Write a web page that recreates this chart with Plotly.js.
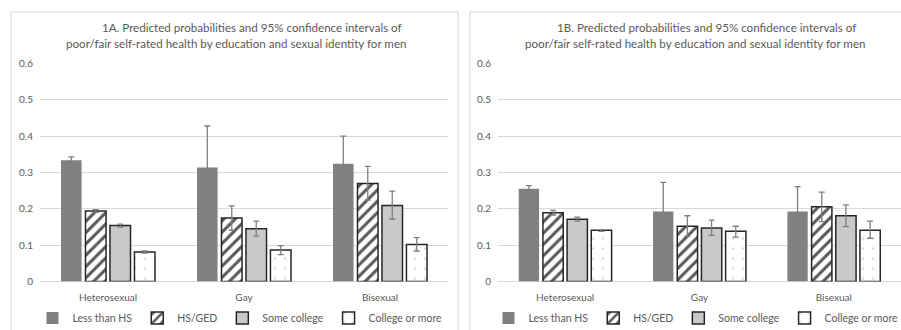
<!DOCTYPE html>
<html>
<head>
<meta charset="utf-8">
<script src="https://cdn.plot.ly/plotly-3.0.1.min.js"></script>
<style>html,body{margin:0;padding:0;background:#fff;}#chart{width:901px;height:330px;}</style>
</head>
<body>
<div id="chart"></div>
<script>
// ---- Data ----
const categories = ['Heterosexual', 'Gay', 'Bisexual'];
const seriesNames = ['Less than HS', 'HS/GED', 'Some college', 'College or more'];
const titleA1 = '1A. Predicted probabilities and 95% confidence intervals of';
const titleA2 = 'poor/fair self-rated health by education and sexual identity for men';
const titleB1 = '1B. Predicted probabilities and 95% confidence intervals of';
const titleB2 = 'poor/fair self-rated health by education and sexual identity for men';
const yTickVals = [0, 0.1, 0.2, 0.3, 0.4, 0.5, 0.6];
const yTickText = ['0', '0.1', '0.2', '0.3', '0.4', '0.5', '0.6'];

// Panel 1A
const aLess = [0.334, 0.314, 0.324];
const aLessLo = [0.325, 0.203, 0.249];
const aLessHi = [0.343, 0.428, 0.400];
const aHS = [0.194, 0.175, 0.270];
const aHSLo = [0.190, 0.141, 0.224];
const aHSHi = [0.198, 0.208, 0.317];
const aSome = [0.154, 0.145, 0.209];
const aSomeLo = [0.150, 0.125, 0.172];
const aSomeHi = [0.158, 0.166, 0.249];
const aColl = [0.081, 0.087, 0.102];
const aCollLo = [0.078, 0.074, 0.084];
const aCollHi = [0.084, 0.099, 0.121];

// Panel 1B
const bLess = [0.255, 0.193, 0.193];
const bLessLo = [0.247, 0.114, 0.127];
const bLessHi = [0.264, 0.273, 0.261];
const bHS = [0.189, 0.152, 0.206];
const bHSLo = [0.183, 0.125, 0.165];
const bHSHi = [0.196, 0.181, 0.246];
const bSome = [0.171, 0.147, 0.181];
const bSomeLo = [0.166, 0.127, 0.151];
const bSomeHi = [0.177, 0.169, 0.211];
const bColl = [0.141, 0.138, 0.141];
const bCollLo = [0.138, 0.122, 0.119];
const bCollHi = [0.143, 0.152, 0.166];

// ---- Styles ----
const FONT = 'Lato, "Open Sans", sans-serif';
const TXT = '#595959';
const GRID = '#d9d9d9';
const styles = [
  {color: '#808080', line: {color: '#808080', width: 0}},
  {color: '#ffffff', line: {color: '#262626', width: 1.5}, pattern: {shape: '/', fgcolor: '#595959', bgcolor: '#ffffff', size: 8, solidity: 0.38}},
  {color: '#c9c9c9', line: {color: '#262626', width: 1.5}},
  {color: '#ffffff', line: {color: '#262626', width: 1.5}, pattern: {shape: '.', fgcolor: '#d4d4d4', bgcolor: '#ffffff', size: 10, solidity: 0.04}}
];

function makeTrace(name, vals, lo, hi, idx, xa, ya, legend) {
  return {
    type: 'bar', name: name, x: categories, y: vals,
    xaxis: xa, yaxis: ya, legend: legend,
    marker: styles[idx],
    error_y: {type: 'data', symmetric: false,
      array: vals.map((v, i) => hi[i] - v),
      arrayminus: vals.map((v, i) => v - lo[i]),
      color: '#7f7f7f', thickness: 1.3, width: 3},
    hoverinfo: 'y'
  };
}

const aSets = [[aLess, aLessLo, aLessHi], [aHS, aHSLo, aHSHi], [aSome, aSomeLo, aSomeHi], [aColl, aCollLo, aCollHi]];
const bSets = [[bLess, bLessLo, bLessHi], [bHS, bHSLo, bHSHi], [bSome, bSomeLo, bSomeHi], [bColl, bCollLo, bCollHi]];
const data = [];
aSets.forEach((s, i) => data.push(makeTrace(seriesNames[i], s[0], s[1], s[2], i, 'x', 'y', 'legend')));
bSets.forEach((s, i) => data.push(makeTrace(seriesNames[i], s[0], s[1], s[2], i, 'x2', 'y2', 'legend2')));

const W = 901, H = 330;
const yDom = [(H - 281.5) / H, (H - 63.5) / H];
const yaxisBase = {
  range: [0, 0.6], tickvals: yTickVals, ticktext: yTickText,
  showgrid: true, gridcolor: GRID, gridwidth: 1,
  zeroline: true, zerolinecolor: GRID, zerolinewidth: 1,
  showline: false, ticks: '', ticklabelstandoff: 6, automargin: false,
  tickfont: {family: FONT, size: 10, color: TXT}, fixedrange: true
};
const xaxisBase = {
  showgrid: false, zeroline: false, showline: false, ticks: '', automargin: false,
  tickfont: {family: FONT, size: 10, color: TXT}, ticklabelstandoff: 8, fixedrange: true
};

function titleLine(text, cx, cy) {
  return {text: text, xref: 'paper', yref: 'paper', x: cx / W, y: (H - cy) / H,
    xanchor: 'center', yanchor: 'middle', showarrow: false,
    font: {family: FONT, size: 11.6, color: TXT}};
}

const layout = {
  width: W, height: H,
  margin: {l: 0, r: 0, t: 0, b: 0, autoexpand: false},
  paper_bgcolor: '#ffffff', plot_bgcolor: '#ffffff',
  barmode: 'group', bargap: 0.28, bargroupgap: 0.16,
  showlegend: true,
  xaxis: Object.assign({}, xaxisBase, {domain: [40 / W, 448 / W], anchor: 'y'}),
  yaxis: Object.assign({}, yaxisBase, {domain: yDom, anchor: 'x'}),
  xaxis2: Object.assign({}, xaxisBase, {domain: [498 / W, 1], anchor: 'y2'}),
  yaxis2: Object.assign({}, yaxisBase, {domain: yDom, anchor: 'x2'}),
  legend: {orientation: 'h', x: 240 / W, xanchor: 'center', y: 12 / H, yanchor: 'middle',
    font: {family: FONT, size: 10.5, color: TXT}, itemwidth: 30, bgcolor: 'rgba(0,0,0,0)'},
  legend2: {orientation: 'h', x: 696 / W, xanchor: 'center', y: 12 / H, yanchor: 'middle',
    font: {family: FONT, size: 10.5, color: TXT}, itemwidth: 30, bgcolor: 'rgba(0,0,0,0)'},
  annotations: [
    titleLine(titleA1, 252, 28),
    titleLine(titleA2, 236, 44),
    titleLine(titleB1, 706, 28),
    titleLine(titleB2, 695, 44)
  ],
  shapes: [
    {type: 'rect', xref: 'paper', yref: 'paper', x0: 11 / W, x1: 458 / W, y0: -0.05, y1: (H - 12) / H,
      line: {color: GRID, width: 1}, fillcolor: 'rgba(0,0,0,0)', layer: 'below'},
    {type: 'rect', xref: 'paper', yref: 'paper', x0: 470 / W, x1: 1.05, y0: -0.05, y1: (H - 12) / H,
      line: {color: GRID, width: 1}, fillcolor: 'rgba(0,0,0,0)', layer: 'below'}
  ]
};

Plotly.newPlot('chart', data, layout, {displayModeBar: false, staticPlot: true});
</script>
</body>
</html>
